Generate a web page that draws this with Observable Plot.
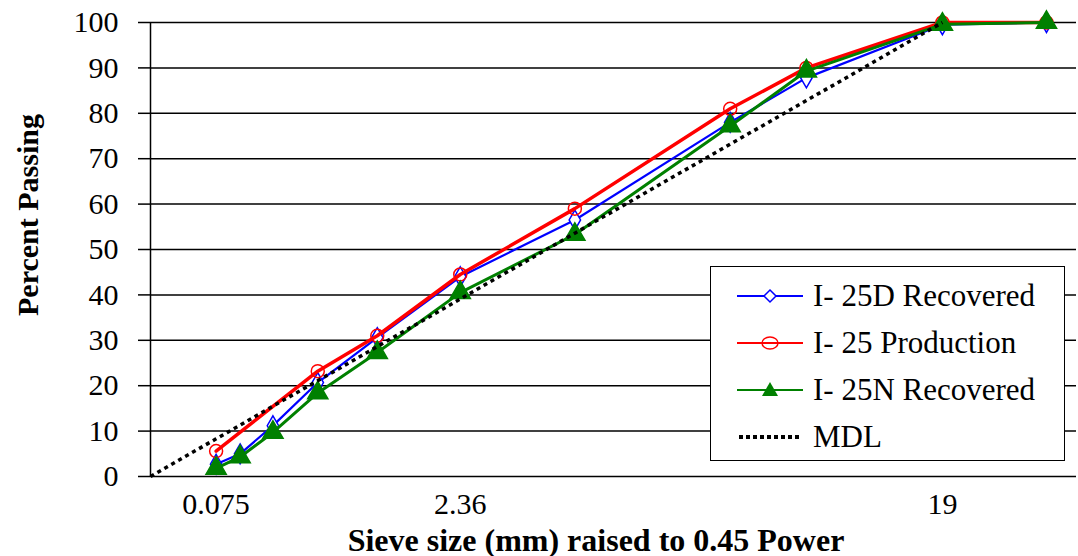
<!DOCTYPE html>
<html><head><meta charset="utf-8">
<script src="https://cdn.jsdelivr.net/npm/d3@7"></script>
<script src="https://cdn.jsdelivr.net/npm/@observablehq/plot@0.6"></script>
<style>
body{margin:0;background:#fff;}
#wrap{position:relative;width:1078px;height:556px;font-family:"Liberation Serif","Tinos","DejaVu Serif",serif;color:#000;}
#wrap svg text{font-family:"Liberation Serif","Tinos","DejaVu Serif",serif;}
.ytitle{position:absolute;left:28px;top:215px;transform:translate(-50%,-50%) rotate(-90deg);font-weight:bold;font-size:30px;white-space:nowrap;}
.xtitle{position:absolute;left:596px;top:540px;transform:translate(-50%,-50%);font-weight:bold;font-size:32px;white-space:nowrap;}
.legend{position:absolute;left:710px;top:266px;width:353px;height:193px;border:1.5px solid #000;background:#fff;}
.row{position:absolute;left:0;height:40px;display:flex;align-items:center;font-size:31px;white-space:nowrap;}
.row svg{margin-left:26px;margin-right:10px;}
</style></head><body><div id="wrap"></div>
<script>
const sieves = [0.075, 0.15, 0.3, 0.6, 1.18, 2.36, 4.75, 9.5, 12.5, 19, 25];
const recovered25D = [2.7, 5.0, 11.2, 20.7, 30.6, 44.0, 56.5, 78.0, 87.8, 99.5, 100];
const production25 = [5.6, null, null, 23.2, 31.0, 44.5, 59.0, 81.0, 90.0, 100, 100];
const recovered25N = [1.8, 4.3, 9.7, 18.4, 27.3, 40.5, 53.3, 77.2, 89.3, 99.6, 100];
const mdlSieves = [0, 0.075, 0.15, 0.3, 0.6, 1.18, 2.36, 4.75, 9.5, 12.5, 19];
const mdlValues = [0, 8.3, 11.3, 15.5, 21.1, 28.6, 39.1, 53.6, 73.2, 82.8, 100];
const xTickLabels = ["0.075", "2.36", "19"];
const yTicks = [0, 10, 20, 30, 40, 50, 60, 70, 80, 90, 100];
const seriesNames = ["I- 25D Recovered", "I- 25 Production", "I- 25N Recovered", "MDL"];

const toRows = (vals) => sieves.map((s, i) => ({s, v: vals[i]})).filter(d => d.v != null);
const dD = toRows(recovered25D);
const dP = toRows(production25);
const dN = toRows(recovered25N);
const dM = mdlSieves.map((s, i) => ({s, v: mdlValues[i]}));
const xTicks = xTickLabels.map(Number);

const plot = Plot.plot({
  width: 1078, height: 556,
  marginLeft: 150, marginRight: 2, marginTop: 22, marginBottom: 80,
  style: {fontFamily: "'Liberation Serif', 'Tinos', 'DejaVu Serif', serif", fontSize: "30px", background: "white", color: "black", overflow: "visible"},
  x: {type: "pow", exponent: 0.45, domain: [0, 26.9]},
  y: {domain: [0, 100]},
  marks: [
    Plot.gridY(yTicks, {stroke: "black", strokeOpacity: 1, strokeWidth: 1.5}),
    Plot.ruleX([0], {stroke: "black", strokeWidth: 1.5}),
    Plot.axisY(yTicks, {tickSize: 12, tickPadding: 20, label: null, fontSize: 30, strokeWidth: 1.5, tickFormat: d => String(d)}),
    Plot.axisX(xTicks, {tickSize: 0, tickPadding: 16, label: null, fontSize: 30, tickFormat: (d, i) => xTickLabels[i]}),
    Plot.line(dD, {x: "s", y: "v", stroke: "#0000ff", strokeWidth: 2.2}),
    Plot.dot(dD, {x: "s", y: "v", symbol: "diamond", r: 6, stroke: "#0000ff", strokeWidth: 1.5, fill: "white"}),
    Plot.line(dP, {x: "s", y: "v", stroke: "#ff0000", strokeWidth: 3.5}),
    Plot.dot(dP, {x: "s", y: "v", symbol: "circle", r: 6.5, stroke: "#ff0000", strokeWidth: 1.5, fill: "none"}),
    Plot.line(dN, {x: "s", y: "v", stroke: "#008000", strokeWidth: 3}),
    Plot.dot(dN, {x: "s", y: "v", symbol: "triangle", r: 7.5, fill: "#008000", stroke: "#008000"}),
    Plot.line(dM, {x: "s", y: "v", stroke: "black", strokeWidth: 3.5, strokeDasharray: "4,4", strokeLinecap: "butt"})
  ]
});

const wrap = document.getElementById("wrap");
wrap.appendChild(plot);

const yt = document.createElement("div"); yt.className = "ytitle"; yt.textContent = "Percent Passing"; wrap.appendChild(yt);
const xt = document.createElement("div"); xt.className = "xtitle"; xt.textContent = "Sieve size (mm) raised to 0.45 Power"; wrap.appendChild(xt);

const lg = document.createElement("div"); lg.className = "legend";
const swatches = [
  `<line x1="0" y1="10" x2="66" y2="10" stroke="#0000ff" stroke-width="2"/><path d="M33,4 L39,10 L33,16 L27,10 Z" fill="white" stroke="#0000ff" stroke-width="1.5"/>`,
  `<line x1="0" y1="10" x2="66" y2="10" stroke="#ff0000" stroke-width="2"/><ellipse cx="33" cy="10" rx="8" ry="6" fill="none" stroke="#ff0000" stroke-width="1.5"/>`,
  `<line x1="0" y1="10" x2="66" y2="10" stroke="#008000" stroke-width="2"/><path d="M33,2 L41,16 L25,16 Z" fill="#008000"/>`,
  `<line x1="2" y1="10" x2="62" y2="10" stroke="black" stroke-width="4" stroke-dasharray="4,3"/>`
];
seriesNames.forEach((n, i) => {
  const r = document.createElement("div"); r.className = "row";
  r.style.top = (9 + i * 47) + "px";
  r.innerHTML = `<svg width="66" height="20">${swatches[i]}</svg><span>${n}</span>`;
  lg.appendChild(r);
});
wrap.appendChild(lg);
</script></body></html>
